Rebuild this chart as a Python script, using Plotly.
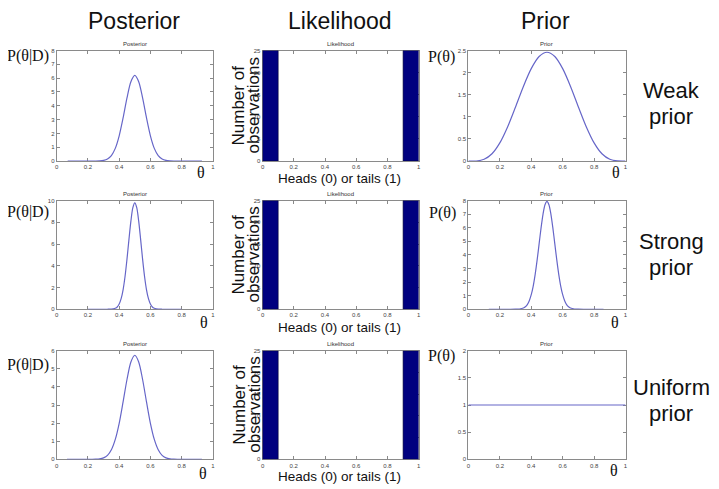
import plotly.graph_objects as go

# ---------------- data ----------------
col_titles = ["Posterior", "Likelihood", "Prior"]
row_titles = [("Weak", "prior"), ("Strong", "prior"), ("Uniform", "prior")]

x_ticks = [0, 0.2, 0.4, 0.6, 0.8, 1]
x_ticklabels = ["0", "0.2", "0.4", "0.6", "0.8", "1"]

# Row 1 (weak prior)
post1_theta = [0.07, 0.15, 0.2, 0.25, 0.275, 0.3, 0.325, 0.35, 0.375, 0.4, 0.425, 0.45, 0.475, 0.5,
               0.525, 0.55, 0.575, 0.6, 0.625, 0.65, 0.675, 0.7, 0.725, 0.75, 0.8, 0.85, 0.93]
post1_vals = [0, 0, 0, 0.003, 0.013, 0.047, 0.15, 0.40, 0.92, 1.83, 3.12, 4.57, 5.74, 6.2,
              5.74, 4.57, 3.12, 1.83, 0.92, 0.40, 0.15, 0.047, 0.013, 0.003, 0, 0, 0]
prior1_theta = [0, 0.05, 0.1, 0.15, 0.2, 0.25, 0.3, 0.35, 0.4, 0.45, 0.5,
                0.55, 0.6, 0.65, 0.7, 0.75, 0.8, 0.85, 0.9, 0.95, 1]
prior1_vals = [0, 0.003, 0.041, 0.167, 0.413, 0.779, 1.225, 1.688, 2.090, 2.364, 2.461,
               2.364, 2.090, 1.688, 1.225, 0.779, 0.413, 0.167, 0.041, 0.003, 0]

# Row 2 (strong prior)
post2_theta = [0.2, 0.3, 0.325, 0.35, 0.3625, 0.375, 0.3875, 0.4, 0.4125, 0.425, 0.4375, 0.45, 0.4625,
               0.475, 0.4875, 0.5, 0.5125, 0.525, 0.5375, 0.55, 0.5625, 0.575, 0.5875, 0.6, 0.6125,
               0.625, 0.6375, 0.65, 0.675, 0.7, 0.8]
post2_vals = [0, 0, 0.001, 0.011, 0.033, 0.088, 0.21, 0.48, 0.97, 1.79, 3.01, 4.61, 6.41,
              8.11, 9.35, 9.8, 9.35, 8.11, 6.41, 4.61, 3.01, 1.79, 0.97, 0.48, 0.21,
              0.088, 0.033, 0.011, 0.001, 0, 0]
prior2_theta = [0.13, 0.25, 0.3, 0.325, 0.35, 0.3625, 0.375, 0.3875, 0.4, 0.4125, 0.425, 0.4375, 0.45,
                0.4625, 0.475, 0.4875, 0.5, 0.5125, 0.525, 0.5375, 0.55, 0.5625, 0.575, 0.5875,
                0.6, 0.6125, 0.625, 0.6375, 0.65, 0.675, 0.7, 0.75, 0.86]
prior2_vals = [0, 0, 0.003, 0.017, 0.087, 0.18, 0.345, 0.63, 1.07, 1.71, 2.57, 3.63, 4.81,
               5.99, 7.01, 7.70, 7.95, 7.70, 7.01, 5.99, 4.81, 3.63, 2.57, 1.71,
               1.07, 0.63, 0.345, 0.18, 0.087, 0.017, 0.003, 0, 0]

# Row 3 (uniform prior)
post3_theta = [0.065, 0.15, 0.2, 0.225, 0.25, 0.275, 0.3, 0.325, 0.35, 0.375, 0.4, 0.425, 0.45, 0.475, 0.5,
               0.525, 0.55, 0.575, 0.6, 0.625, 0.65, 0.675, 0.7, 0.725, 0.75, 0.775, 0.8, 0.85, 0.93]
post3_vals = [0, 0, 0, 0.002, 0.008, 0.027, 0.083, 0.22, 0.53, 1.10, 1.99, 3.17, 4.41, 5.38, 5.75,
              5.38, 4.41, 3.17, 1.99, 1.10, 0.53, 0.22, 0.083, 0.027, 0.008, 0.002, 0, 0, 0]
prior3_theta = [0, 1]
prior3_vals = [1, 1]

# Likelihood histogram (same in every row)
lik_centers = [0.05, 0.95]
lik_counts = [25, 25]
lik_width = 0.1

post_ymax = [8, 10, 6]
post_dtick = [1, 2, 1]
prior_ymax = [2.5, 8, 2]
prior_dtick = [0.5, 1, 0.5]
lik_ymax = 25
lik_dtick = 5

posts = [(post1_theta, post1_vals), (post2_theta, post2_vals), (post3_theta, post3_vals)]
priors = [(prior1_theta, prior1_vals), (prior2_theta, prior2_vals), (prior3_theta, prior3_vals)]

# ---------------- layout geometry (page pixels) ----------------
PAGE_W, PAGE_H = 719, 489
OFF = 8  # default body margin of the html page
W, H = PAGE_W - OFF, PAGE_H - OFF
col_px = [(55, 212), (262, 419), (469, 627)]
row_px = [(48, 160), (200, 310), (352, 462)]


def fx(x):
    return (x - OFF) / W


def fy(y):
    return 1 - (y - OFF) / H


LINE_COL = "#6666c8"
AX_COL = "#8a8a8a"
SANS = "Liberation Sans, Arial, sans-serif"
SERIF = "Liberation Serif, Times New Roman, serif"

fig = go.Figure()
layout = dict(
    width=W, height=H, margin=dict(l=0, r=0, t=0, b=0),
    paper_bgcolor="white", plot_bgcolor="white",
    showlegend=False, font=dict(family=SANS, color="#333"),
)
annotations = []

for r in range(3):
    for c in range(3):
        k = r * 3 + c + 1
        xa = "xaxis" if k == 1 else f"xaxis{k}"
        ya = "yaxis" if k == 1 else f"yaxis{k}"
        xr = "x" if k == 1 else f"x{k}"
        yr = "y" if k == 1 else f"y{k}"
        x0, x1 = col_px[c]
        y0, y1 = row_px[r]
        if c == 0:
            ymax, dt = post_ymax[r], post_dtick[r]
            th, vals = posts[r]
            fig.add_trace(go.Scatter(x=th, y=vals, mode="lines", xaxis=xr, yaxis=yr,
                                     line=dict(color=LINE_COL, width=1.2, shape="spline", smoothing=0.8)))
        elif c == 1:
            ymax, dt = lik_ymax, lik_dtick
            fig.add_trace(go.Bar(x=lik_centers, y=lik_counts, width=lik_width, xaxis=xr, yaxis=yr,
                                 marker=dict(color="#00007f", line=dict(color="#000030", width=0.6))))
        else:
            ymax, dt = prior_ymax[r], prior_dtick[r]
            th, vals = priors[r]
            fig.add_trace(go.Scatter(x=th, y=vals, mode="lines", xaxis=xr, yaxis=yr,
                                     line=dict(color=LINE_COL, width=1.2, shape="spline", smoothing=0.8)))
        common = dict(showline=True, linecolor=AX_COL, linewidth=1, mirror="ticks",
                      ticks="inside", ticklen=3, tickcolor=AX_COL, tickwidth=1,
                      showgrid=False, zeroline=False, layer="below traces",
                      tickfont=dict(size=6, color="#444", family=SANS))
        layout[xa] = dict(domain=[fx(x0), fx(x1)], range=[0, 1], anchor=yr,
                          tickvals=x_ticks, ticktext=x_ticklabels, **common)
        layout[ya] = dict(domain=[fy(y1), fy(y0)], range=[0, ymax], anchor=xr,
                          dtick=dt, tick0=0, **common)
        # small matlab-style title
        annotations.append(dict(text=["Posterior", "Likelihood", "Prior"][c], x=fx((x0 + x1) / 2),
                                y=fy(y0 - 2), xref="paper", yref="paper", showarrow=False,
                                xanchor="center", yanchor="bottom",
                                font=dict(size=6, color="#333", family=SANS)))

# column headers
for c, t in enumerate(col_titles):
    cx = [133, 340, 547][c]
    annotations.append(dict(text=t, x=fx(cx), y=fy(18), xref="paper", yref="paper",
                            showarrow=False, xanchor="center", yanchor="middle",
                            font=dict(size=23, color="#111", family=SANS)))

# row labels
row_line_y = [(88, 115), (241, 268), (389, 416)]
for r, (a, b) in enumerate(row_titles):
    for txt, yy in zip((a, b), row_line_y[r]):
        annotations.append(dict(text=txt, x=fx(673), y=fy(yy), xref="paper", yref="paper",
                                showarrow=False, xanchor="center", yanchor="middle",
                                font=dict(size=22, color="#111", family=SANS)))

# y labels for posterior and prior
post_lab_y = [54, 212, 366]
prior_lab_y = [55, 213, 357]
prior_lab_x = [458, 459, 458]
for r in range(3):
    annotations.append(dict(text="P(θ|D)", x=fx(49), y=fy(post_lab_y[r]), xref="paper", yref="paper",
                            showarrow=False, xanchor="right", yanchor="middle",
                            font=dict(size=16, color="#111", family=SERIF)))
    annotations.append(dict(text="P(θ)", x=fx(prior_lab_x[r]), y=fy(prior_lab_y[r]), xref="paper",
                            yref="paper", showarrow=False, xanchor="right", yanchor="middle",
                            font=dict(size=16, color="#111", family=SERIF)))

# theta labels
theta_post = [(200, 172), (203, 323), (202, 476)]
theta_prior = [(617, 172), (616, 323), (615, 473)]
for (x, y) in theta_post + theta_prior:
    annotations.append(dict(text="θ", x=fx(x), y=fy(y), xref="paper", yref="paper",
                            showarrow=False, xanchor="center", yanchor="middle",
                            font=dict(size=16, color="#111", family=SERIF)))

# likelihood axis labels
lik_center_y = [104, 255, 407]
heads_y = [178, 329, 479]
for r in range(3):
    annotations.append(dict(text="Number of", x=fx(238), y=fy(lik_center_y[r]), xref="paper",
                            yref="paper", showarrow=False, textangle=-90, xanchor="center",
                            yanchor="middle", font=dict(size=17, color="#111", family=SANS)))
    annotations.append(dict(text="observations", x=fx(253), y=fy(lik_center_y[r]), xref="paper",
                            yref="paper", showarrow=False, textangle=-90, xanchor="center",
                            yanchor="middle", font=dict(size=17, color="#111", family=SANS)))
    annotations.append(dict(text="Heads (0) or tails (1)", x=fx(339), y=fy(heads_y[r]), xref="paper",
                            yref="paper", showarrow=False, xanchor="center", yanchor="middle",
                            font=dict(size=13.5, color="#111", family=SANS)))

layout["annotations"] = annotations
fig.update_layout(**layout)
fig.write_html("out.html")
